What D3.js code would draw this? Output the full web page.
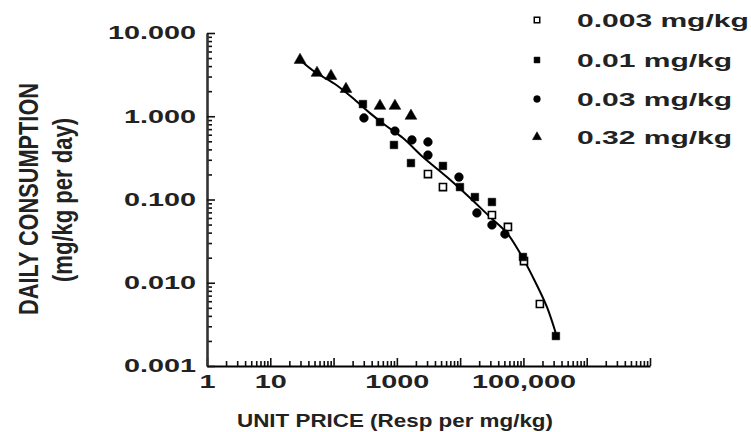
<!DOCTYPE html>
<html><head><meta charset="utf-8">
<script src="https://cdn.jsdelivr.net/npm/d3@7"></script>
<style>
html,body{margin:0;padding:0;background:#fff;}
svg{display:block;font-family:"Liberation Sans",Arial,Helvetica,sans-serif;font-weight:bold;}
</style></head>
<body>
<svg id="chart" width="751" height="432"></svg>
<script>
// ---- data ----
const xTickValues = [1, 10, 1000, 100000];
const xTickLabels = ["1", "10", "1000", "100,000"];
const yTickValues = [10, 1, 0.1, 0.01, 0.001];
const yTickLabels = ["10.000", "1.000", "0.100", "0.010", "0.001"];

const seriesNames = ["0.003 mg/kg", "0.01 mg/kg", "0.03 mg/kg", "0.32 mg/kg"];

const price003 = [3100, 5350, 31800, 56900, 102000, 182000];
const cons003  = [0.202, 0.141, 0.0652, 0.0468, 0.0182, 0.00556];

const price01 = [291, 541, 900, 1670, 5350, 9930, 17100, 31800, 98200, 326000];
const cons01  = [1.40, 0.853, 0.452, 0.274, 0.253, 0.141, 0.107, 0.0933, 0.0204, 0.00229];

const price03 = [302, 933, 1730, 3100, 3100, 9570, 18400, 31800, 51000];
const cons03  = [0.953, 0.665, 0.519, 0.491, 0.342, 0.186, 0.0689, 0.0494, 0.0385];

const price32 = [29.5, 54.7, 91.0, 157, 541, 933, 1670];
const cons32  = [4.74, 3.31, 3.04, 2.12, 1.33, 1.33, 1.01];

// fitted demand curve
const curvePrice = [29.5, 50.8, 105, 218, 376, 649, 1248, 2584, 6185, 12800, 29600, 54800, 88100, 141000, 235000, 338000];
const curveCons  = [4.74, 3.40, 2.44, 1.57, 1.09, 0.785, 0.548, 0.324, 0.186, 0.113, 0.0617, 0.0396, 0.0228, 0.0117, 0.00512, 0.00223];

// ---- drawing ----
const svg = d3.select("#chart");
const x = d3.scaleLog().domain([1, 1e7]).range([207, 650]);
const y = d3.scaleLog().domain([0.001, 10]).range([366, 33]);

const decadesX = d3.range(0, 8).map(e => Math.pow(10, e));
const minorX = [];
for (let e = 0; e < 7; e++) for (let m = 2; m <= 9; m++) minorX.push(m * Math.pow(10, e));
const decadesY = [0.001, 0.01, 0.1, 1, 10];
const minorY = [];
for (let e = -3; e < 1; e++) for (let m = 2; m <= 9; m++) minorY.push(m * Math.pow(10, e));

const SX = 1.6;

// x axis
const gxMinor = svg.append("g").attr("transform", "translate(0,366)")
  .call(d3.axisBottom(x).tickValues(minorX).tickSizeInner(-5).tickSizeOuter(0).tickFormat(""));
gxMinor.select(".domain").remove();
const gx = svg.append("g").attr("transform", "translate(0,366)")
  .call(d3.axisBottom(x).tickValues(decadesX).tickSizeInner(-8).tickSizeOuter(0).tickPadding(9)
    .tickFormat(d => { const i = xTickValues.indexOf(d); return i >= 0 ? xTickLabels[i] : ""; }));
gx.select(".domain").attr("stroke", "#000").attr("stroke-width", 2);
[gx, gxMinor].forEach(g => g.selectAll(".tick line").attr("stroke", "#111").attr("stroke-width", 1.6));
gx.selectAll(".tick text").attr("font-size", 18).attr("font-weight", "bold").attr("fill", "#222")
  .attr("font-family", "Liberation Sans, Arial, sans-serif")
  .attr("transform", `scale(${SX},1)`);

// y axis
const gyMinor = svg.append("g").attr("transform", "translate(207,0)")
  .call(d3.axisLeft(y).tickValues(minorY).tickSizeInner(-5).tickSizeOuter(0).tickFormat(""));
gyMinor.select(".domain").remove();
const gy = svg.append("g").attr("transform", "translate(207,0)")
  .call(d3.axisLeft(y).tickValues(decadesY).tickSizeInner(-8).tickSizeOuter(0).tickPadding(0)
    .tickFormat(d => { const i = yTickValues.indexOf(d); return i >= 0 ? yTickLabels[i] : ""; }));
gy.select(".domain").attr("stroke", "#333").attr("stroke-width", 2.6);
[gy, gyMinor].forEach(g => g.selectAll(".tick line").attr("stroke", "#111").attr("stroke-width", 1.6));
gy.selectAll(".tick text").attr("font-size", 18).attr("font-weight", "bold").attr("fill", "#222")
  .attr("font-family", "Liberation Sans, Arial, sans-serif")
  .attr("x", 0).attr("transform", `translate(-11,0) scale(${SX},1)`);

// fitted curve
const curve = curvePrice.map((p, i) => [p, curveCons[i]]);
svg.append("path").datum(curve)
  .attr("fill", "none").attr("stroke", "#000").attr("stroke-width", 2)
  .attr("d", d3.line().x(d => x(d[0])).y(d => y(d[1])).curve(d3.curveCatmullRom));

// points
const series = [
  { name: seriesNames[0], price: price003, cons: cons003, type: d3.symbolSquare, open: true, size: 50 },
  { name: seriesNames[1], price: price01, cons: cons01, type: d3.symbolSquare, open: false, size: 58 },
  { name: seriesNames[2], price: price03, cons: cons03, type: d3.symbolCircle, open: false, size: 60 },
  { name: seriesNames[3], price: price32, cons: cons32, type: d3.symbolTriangle, open: false, size: 60 }
];
series.forEach(s => {
  const sym = d3.symbol().type(s.type).size(s.size);
  svg.append("g").selectAll("path").data(s.price.map((p, i) => [p, s.cons[i]])).join("path")
    .attr("d", sym)
    .attr("transform", d => `translate(${x(d[0])},${y(d[1])})`)
    .attr("fill", s.open ? "#fff" : "#000")
    .attr("stroke", "#000").attr("stroke-width", s.open ? 1.6 : 0.5);
});

// legend
const legendY = [20, 60, 99, 137];
series.forEach((s, i) => {
  const sym = d3.symbol().type(s.type).size(s.size * 0.6);
  svg.append("path").attr("d", sym).attr("transform", `translate(537,${legendY[i]})`)
    .attr("fill", s.open ? "#fff" : "#000").attr("stroke", "#000").attr("stroke-width", s.open ? 1.5 : 0.5);
  svg.append("g").attr("transform", `translate(577,${legendY[i]}) scale(1.58,1)`)
    .append("text").attr("dy", "0.36em").attr("font-size", 19).attr("fill", "#222").text(s.name);
});

// axis titles
svg.append("text").attr("x", 395).attr("y", 427).attr("text-anchor", "middle")
  .attr("font-size", 18).attr("fill", "#222")
  .attr("textLength", 316).attr("lengthAdjust", "spacingAndGlyphs")
  .text("UNIT PRICE (Resp per mg/kg)");

svg.append("g").attr("transform", `translate(38,199) scale(${SX},1) rotate(-90)`)
  .append("text").attr("text-anchor", "middle").attr("font-size", 17).attr("fill", "#222")
  .attr("textLength", 232).attr("lengthAdjust", "spacingAndGlyphs")
  .text("DAILY CONSUMPTION");
svg.append("g").attr("transform", `translate(72,200) scale(${SX},1) rotate(-90)`)
  .append("text").attr("text-anchor", "middle").attr("font-size", 17).attr("fill", "#222")
  .attr("textLength", 164).attr("lengthAdjust", "spacingAndGlyphs")
  .text("(mg/kg per day)");
</script>
</body></html>
